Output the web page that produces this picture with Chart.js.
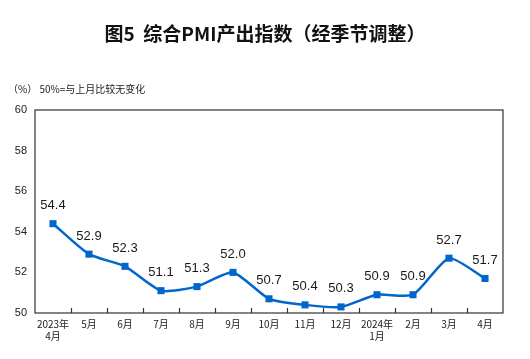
<!DOCTYPE html>
<html>
<head>
<meta charset="utf-8">
<script src="https://cdn.jsdelivr.net/npm/chart.js@4/dist/chart.umd.min.js"></script>
<style>
html,body{margin:0;padding:0;background:#fff;}
#wrap{position:relative;width:530px;height:359px;}
#title{position:absolute;left:0;top:20px;width:530px;text-align:center;font-family:"Noto Sans CJK SC";font-weight:bold;font-size:19px;color:#111;line-height:26px;}
#sub{position:absolute;left:8px;top:82px;font-family:"Noto Sans CJK SC";font-size:10px;color:#222;line-height:14px;}
canvas{position:absolute;left:0;top:0;}
</style>
</head>
<body>
<div id="wrap">
<canvas id="c" width="530" height="359"></canvas>
<div id="title">图5&nbsp;&nbsp;综合PMI产出指数（经季节调整）</div>
<div id="sub">（%）&nbsp;50%=与上月比较无变化</div>
</div>
<script>
const categories = [["2023年","4月"],"5月","6月","7月","8月","9月","10月","11月","12月",["2024年","1月"],"2月","3月","4月"];
const pmiValues = [54.4, 52.9, 52.3, 51.1, 51.3, 52.0, 50.7, 50.4, 50.3, 50.9, 50.9, 52.7, 51.7];
const yTicks = [50, 52, 54, 56, 58, 60];

const boxPlugin = {
  id: 'box',
  afterDraw(chart) {
    const {ctx, chartArea: a} = chart;
    const xs = chart.scales.x;
    ctx.save();
    ctx.strokeStyle = '#333';
    ctx.lineWidth = 1.2;
    ctx.strokeRect(a.left, a.top, a.right - a.left, a.bottom - a.top);
    ctx.beginPath();
    for (let i = 1; i < categories.length; i++) {
      const x = Math.round((xs.getPixelForValue(i - 1) + xs.getPixelForValue(i)) / 2) + 0.5;
      ctx.moveTo(x, a.bottom);
      ctx.lineTo(x, a.bottom - 5);
    }
    ctx.stroke();
    ctx.restore();
  }
};

const labelPlugin = {
  id: 'vlabels',
  afterDatasetsDraw(chart) {
    const {ctx} = chart;
    const meta = chart.getDatasetMeta(0);
    ctx.save();
    ctx.font = '13px "Liberation Sans", Arial, sans-serif';
    ctx.fillStyle = '#1a1a1a';
    ctx.textAlign = 'center';
    ctx.textBaseline = 'middle';
    meta.data.forEach((pt, i) => {
      ctx.fillText(pmiValues[i].toFixed(1), pt.x, pt.y - 18);
    });
    ctx.restore();
  }
};

new Chart(document.getElementById('c'), {
  type: 'line',
  data: {
    labels: categories,
    datasets: [{
      data: pmiValues,
      borderColor: '#0066CC',
      backgroundColor: '#0066CC',
      borderWidth: 2.5,
      pointStyle: 'rect',
      pointRadius: 5,
      pointBorderWidth: 0,
      tension: 0.2
    }]
  },
  options: {
    responsive: false,
    animation: false,
    layout: {padding: {left: 0, right: 27, top: 110, bottom: 12}},
    plugins: {legend: {display: false}, tooltip: {enabled: false}},
    scales: {
      x: {
        offset: true,
        grid: {display: false, drawTicks: false},
        border: {display: false},
        ticks: {
          font: {family: '"Noto Sans CJK SC"', size: 10},
          color: '#222',
          padding: 5,
          maxRotation: 0,
          autoSkip: false
        }
      },
      y: {
        min: 50, max: 60,
        afterBuildTicks(scale) { scale.ticks = yTicks.map(v => ({value: v})); },
        grid: {display: false, drawTicks: false},
        border: {display: false},
        ticks: {
          font: {family: '"Liberation Sans"', size: 11},
          color: '#222',
          padding: 8
        },
        afterFit(scale) { scale.width = 35; }
      }
    }
  },
  plugins: [boxPlugin, labelPlugin]
});
</script>
</body>
</html>
